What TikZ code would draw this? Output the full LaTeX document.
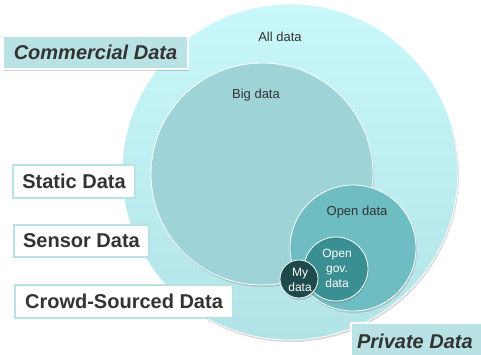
\documentclass[tikz,border=0pt]{standalone}
\usepackage{fontspec}
\setmainfont{Liberation Sans}
\usetikzlibrary{shadows}
\definecolor{allc}{HTML}{C9F8FA}
\definecolor{allb}{HTML}{B2E3E6}
\definecolor{bigc}{HTML}{9ED3D7}
\definecolor{openc}{HTML}{6DBDC3}
\definecolor{govc}{HTML}{3A8F93}
\definecolor{myc}{HTML}{1F4A4C}
\definecolor{boxc}{HTML}{B9E2E4}
\definecolor{txt}{HTML}{333333}
\tikzset{
  ring/.style={circle, draw=white, line width=0.8pt, inner sep=0pt,
    drop shadow={shadow xshift=1pt, shadow yshift=-2pt, opacity=0.25, fill=black!60}},
  lbl/.style={font=\fontsize{13}{15}\selectfont, text=txt, align=center},
  wlbl/.style={font=\fontsize{12}{15}\selectfont, text=white, align=center},
  tealbox/.style={rectangle, fill=boxc, draw=white, line width=1.8pt, inner sep=0pt,
    font=\fontsize{20}{24}\selectfont\bfseries\itshape, text=txt,
    drop shadow={shadow xshift=1pt, shadow yshift=-1.5pt, opacity=0.3, fill=black!60}},
  whitebox/.style={rectangle, fill=white, draw=boxc, line width=1.5pt, inner sep=0pt,
    font=\fontsize{20}{24}\selectfont\bfseries, text=txt,
    drop shadow={shadow xshift=0.8pt, shadow yshift=-1pt, opacity=0.15, fill=black!60}}
}
\begin{document}
\begin{tikzpicture}[x=1pt,y=-1pt]
\useasboundingbox (0,0) rectangle (481,354);
\fill[white] (0,0) rectangle (481,354);
% circles
\node[ring, minimum size=336pt, top color=allc, bottom color=allb] (all) at (290,172) {};
\node[ring, minimum size=222pt, fill=bigc] (big) at (262,174) {};
\node[ring, minimum size=126pt, fill=openc] (open) at (353,248) {};
\node[ring, minimum size=64pt, fill=govc] (gov) at (336,269) {};
\node[ring, minimum size=38pt, fill=myc] (my) at (299,279) {};
% circle labels
\node[lbl] (allt) at (280,37) {All data};
\node[lbl] (bigt) at (256,95) {Big data};
\node[lbl] (opent) at (357,212) {Open data};
\node[wlbl] (govt) at (337,268) {Open\\gov.\\data};
\node[wlbl] (myt) at (300,279.5) {My\\data};
% boxes
\node[tealbox, minimum width=185pt, minimum height=33pt] (comm) at (95.5,52.5) {Commercial Data};
\node[whitebox, minimum width=122pt, minimum height=33pt] (static) at (74,181.5) {Static Data};
\node[whitebox, minimum width=135pt, minimum height=32pt] (sensor) at (81.5,241) {Sensor Data};
\node[whitebox, minimum width=218pt, minimum height=33pt] (crowd) at (124,301.5) {Crowd-Sourced Data};
\node[tealbox, minimum width=136pt, minimum height=36pt, anchor=north west] (priv) at (350,322) {\hspace*{-2pt}Private Data\hspace*{6pt}};
\end{tikzpicture}
\end{document}
